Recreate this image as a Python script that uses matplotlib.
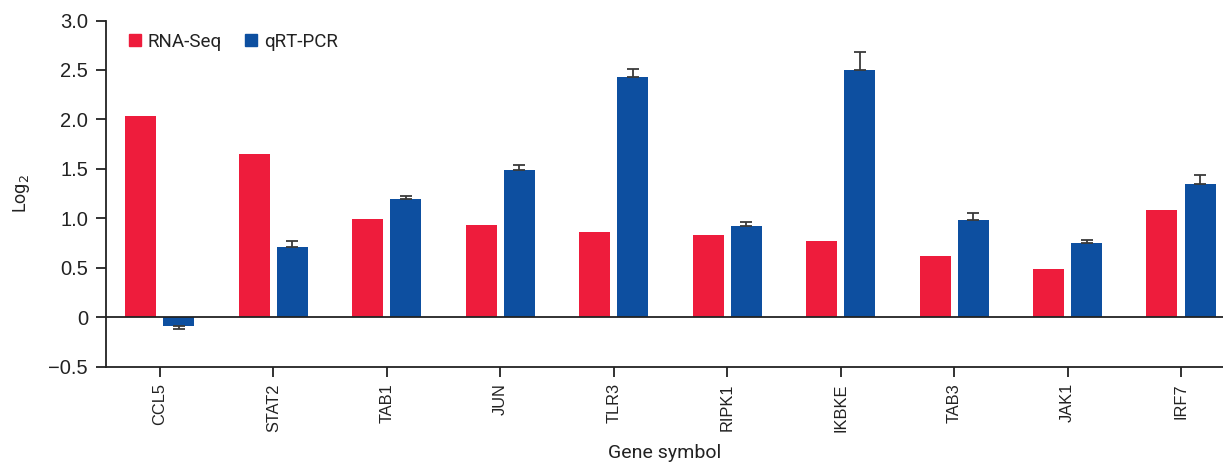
import matplotlib
matplotlib.use("Agg")
import matplotlib.pyplot as plt
import numpy as np
from matplotlib.patches import Patch

genes = ["CCL5", "STAT2", "TAB1", "JUN", "TLR3", "RIPK1", "IKBKE", "TAB3", "JAK1", "IRF7"]
rna_seq = [2.03, 1.65, 0.99, 0.93, 0.86, 0.83, 0.77, 0.62, 0.49, 1.08]
qrt_pcr = [-0.09, 0.71, 1.195, 1.49, 2.43, 0.92, 2.50, 0.98, 0.75, 1.35]
qrt_err = [0.03, 0.06, 0.03, 0.05, 0.08, 0.04, 0.18, 0.07, 0.03, 0.09]
yticks = [-0.5, 0, 0.5, 1.0, 1.5, 2.0, 2.5, 3.0]
ytick_labels = ["\u22120.5", "0", "0.5", "1.0", "1.5", "2.0", "2.5", "3.0"]

RED = "#EE1C3C"
BLUE = "#0D4FA0"
TICKFONT = ["Liberation Sans", "DejaVu Sans"]
LABELFONT = ["Roboto", "DejaVu Sans"]

fig = plt.figure(figsize=(12.23, 4.62), dpi=100)
ax = fig.add_axes([0.0867, 0.2063, 0.9133, 0.7493])

x = np.arange(len(genes))
w = 0.273
off = 0.168
ax.bar(x - off, rna_seq, width=w, color=RED, zorder=2)
ax.bar(x + off, qrt_pcr, width=w, color=BLUE, zorder=2)

# one-sided error bars (away from zero)
q = np.array(qrt_pcr)
e = np.array(qrt_err)
lower = np.where(q < 0, e, 0)
upper = np.where(q >= 0, e, 0)
ax.errorbar(x + off, q, yerr=[lower, upper], fmt="none", ecolor="#3a3a3a",
            elinewidth=1.3, capsize=4.5, capthick=1.3, zorder=3)

ax.axhline(0, color="#222222", lw=1.3, zorder=4)

ax.set_ylim(-0.5, 3.0)
ax.set_xlim(-0.475, 9.37)
ax.set_yticks(yticks)
ax.set_yticklabels(ytick_labels, fontsize=14.5, family=TICKFONT, color="#222222")
ax.set_xticks(x)
ax.set_xticklabels(genes, rotation=90, fontsize=11.8, family=TICKFONT, color="#222222")

for s in ["top", "right"]:
    ax.spines[s].set_visible(False)
for s in ["left", "bottom"]:
    ax.spines[s].set_color("#222222")
    ax.spines[s].set_linewidth(1.3)
ax.tick_params(axis="both", direction="out", length=7, width=1.3, color="#222222")
ax.tick_params(axis="y", pad=6)
ax.tick_params(axis="x", pad=5)

ax.set_ylabel("Log$_2$", fontsize=13, family=LABELFONT, color="#222222", labelpad=12)
fig.text(0.5 * (0.0867 + 1.0), 0.0, "Gene symbol", fontsize=14, family=LABELFONT,
         color="#222222", ha="center", va="bottom")

handles = [Patch(color=RED, label="RNA-Seq"), Patch(color=BLUE, label="qRT-PCR")]
leg = ax.legend(handles=handles, loc="upper left", ncol=2, frameon=False,
                bbox_to_anchor=(0.0205, 0.965), borderaxespad=0, borderpad=0,
                handlelength=0.62, handleheight=0.62,
                handletextpad=0.38, columnspacing=1.25,
                prop={"family": LABELFONT, "size": 13.5})
for t in leg.get_texts():
    t.set_color("#222222")

fig.savefig("out.png", dpi=100)
